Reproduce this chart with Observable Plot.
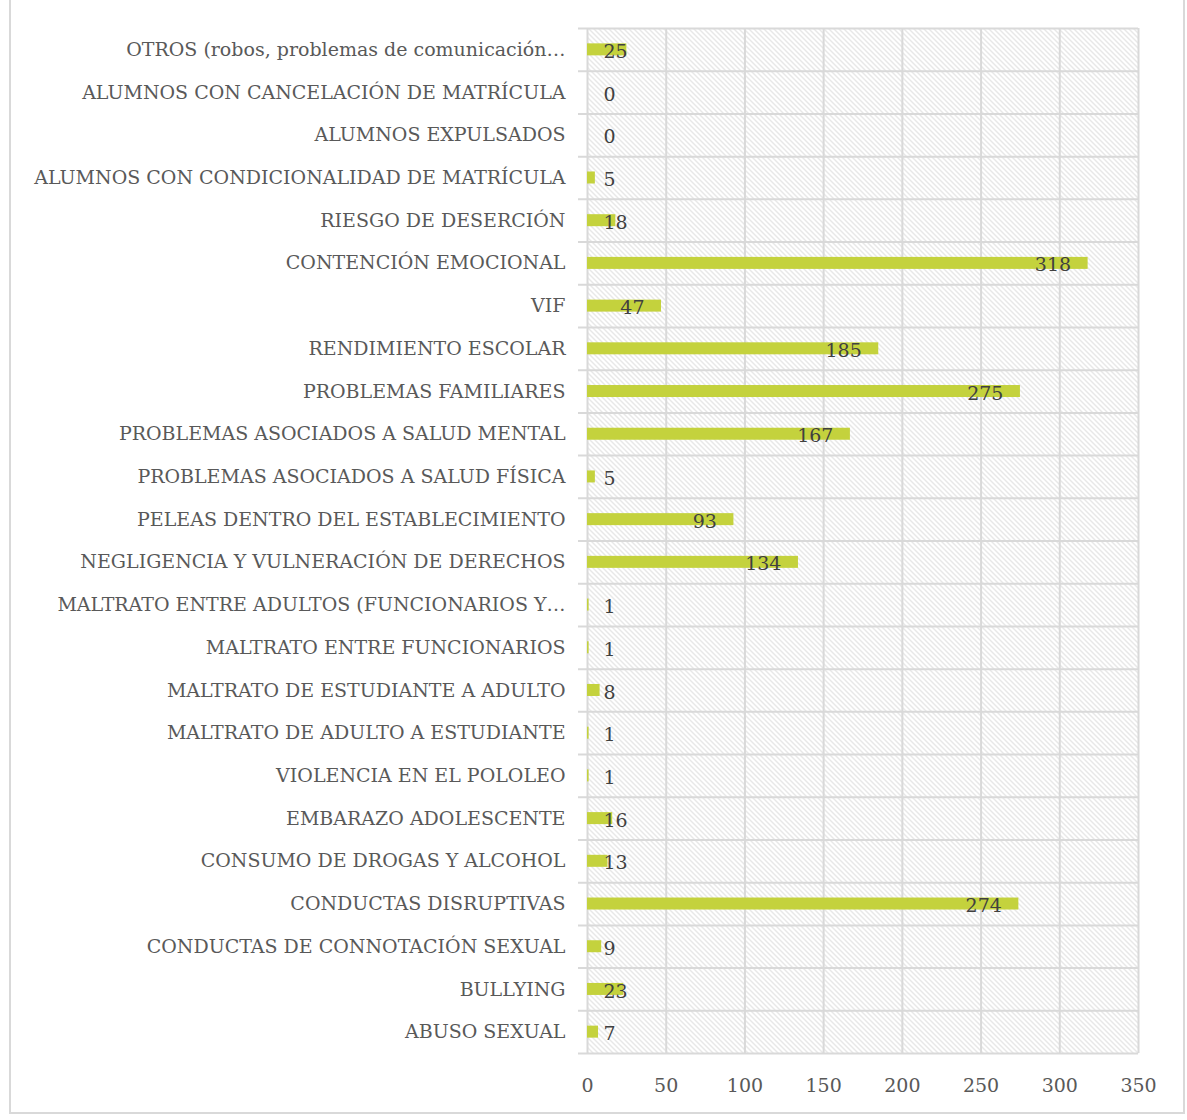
<!DOCTYPE html>
<html>
<head>
<meta charset="utf-8">
<script src="https://cdn.jsdelivr.net/npm/d3@7"></script>
<script src="https://cdn.jsdelivr.net/npm/@observablehq/plot@0.6"></script>
<style>
  html, body { margin: 0; padding: 0; background: #ffffff; }
  #wrap { position: relative; width: 1187px; height: 1120px; overflow: hidden; }
  #border { position: absolute; left: 9px; top: -4px; width: 1176px; height: 1118px; border: 2px solid #d9d9d9; box-sizing: border-box; }
  #chart { position: absolute; left: 0; top: 0; }
</style>
</head>
<body>
<div id="wrap"><div id="border"></div><div id="chart"></div></div>
<script>
const categories = [
  "OTROS (robos, problemas de comunicación…",
  "ALUMNOS CON CANCELACIÓN DE MATRÍCULA",
  "ALUMNOS EXPULSADOS",
  "ALUMNOS CON CONDICIONALIDAD DE MATRÍCULA",
  "RIESGO DE DESERCIÓN",
  "CONTENCIÓN EMOCIONAL",
  "VIF",
  "RENDIMIENTO ESCOLAR",
  "PROBLEMAS FAMILIARES",
  "PROBLEMAS ASOCIADOS A SALUD MENTAL",
  "PROBLEMAS ASOCIADOS A SALUD FÍSICA",
  "PELEAS DENTRO DEL ESTABLECIMIENTO",
  "NEGLIGENCIA Y VULNERACIÓN DE DERECHOS",
  "MALTRATO ENTRE ADULTOS (FUNCIONARIOS Y…",
  "MALTRATO ENTRE FUNCIONARIOS",
  "MALTRATO DE ESTUDIANTE A ADULTO",
  "MALTRATO DE ADULTO A ESTUDIANTE",
  "VIOLENCIA EN EL POLOLEO",
  "EMBARAZO ADOLESCENTE",
  "CONSUMO DE DROGAS Y ALCOHOL",
  "CONDUCTAS DISRUPTIVAS",
  "CONDUCTAS DE CONNOTACIÓN SEXUAL",
  "BULLYING",
  "ABUSO SEXUAL"
];
const values = [25, 0, 0, 5, 18, 318, 47, 185, 275, 167, 5, 93, 134, 1, 1, 8, 1, 1, 16, 13, 274, 9, 23, 7];
const xTicks = [0, 50, 100, 150, 200, 250, 300, 350];

const data = categories.map((c, i) => ({cat: c, value: values[i]}));

const W = 1187, H = 1120;
const mTop = 28, mBottom = 67, mLeft = 587, mRight = 49;
const step = (H - mTop - mBottom) / categories.length;
const barH = 12;
const inset = (step - barH) / 2;
const grid = "#d9d9d9";
const font = "'DejaVu Serif', serif";

const chart = Plot.plot({
  width: W, height: H,
  marginTop: mTop, marginBottom: mBottom, marginLeft: mLeft, marginRight: mRight,
  style: {fontFamily: font, fontSize: "19px", color: "#595959", background: "transparent", overflow: "visible"},
  x: {domain: [0, 350], ticks: xTicks, tickFormat: d => String(d), label: null, tickSize: 0, tickPadding: 25},
  y: {domain: categories, padding: 0, round: false, label: null, tickSize: 0, tickPadding: 22},
  marks: [
    Plot.frame({fill: "url(#hatch)", stroke: "none"}),
    Plot.gridX(xTicks, {stroke: grid, strokeWidth: 2, strokeOpacity: 1}),
    Plot.ruleY(categories, {y: d => d, dy: -step / 2, stroke: grid, strokeWidth: 2, insetLeft: -9}),
    Plot.ruleY(categories.slice(-1), {y: d => d, dy: step / 2, stroke: grid, strokeWidth: 2, insetLeft: -9}),
    Plot.barX(data, {x: "value", y: "cat", fill: "#c4d23d", insetTop: inset, insetBottom: inset}),
    Plot.text(data.filter(d => d.value >= 40), {x: "value", y: "cat", text: d => String(d.value), textAnchor: "end", dx: -17, dy: 2, fill: "#404040", fontSize: 19}),
    Plot.text(data.filter(d => d.value < 40), {x: 0, y: "cat", text: d => String(d.value), textAnchor: "start", dx: 16, dy: 2, fill: "#404040", fontSize: 19})
  ]
});

const ns = "http://www.w3.org/2000/svg";
const defs = document.createElementNS(ns, "defs");
const pat = document.createElementNS(ns, "pattern");
pat.setAttribute("id", "hatch");
pat.setAttribute("patternUnits", "userSpaceOnUse");
pat.setAttribute("width", "5");
pat.setAttribute("height", "5");
const bg = document.createElementNS(ns, "rect");
bg.setAttribute("width", "5"); bg.setAttribute("height", "5"); bg.setAttribute("fill", "#ffffff");
const p = document.createElementNS(ns, "path");
p.setAttribute("d", "M0,0L5,5M-1,4L1,6M4,-1L6,1");
p.setAttribute("stroke", "#d0d0d0");
p.setAttribute("stroke-width", "1");
p.setAttribute("shape-rendering", "crispEdges");
pat.appendChild(bg); pat.appendChild(p);
defs.appendChild(pat);
chart.insertBefore(defs, chart.firstChild);

document.getElementById("chart").appendChild(chart);
</script>
</body>
</html>
